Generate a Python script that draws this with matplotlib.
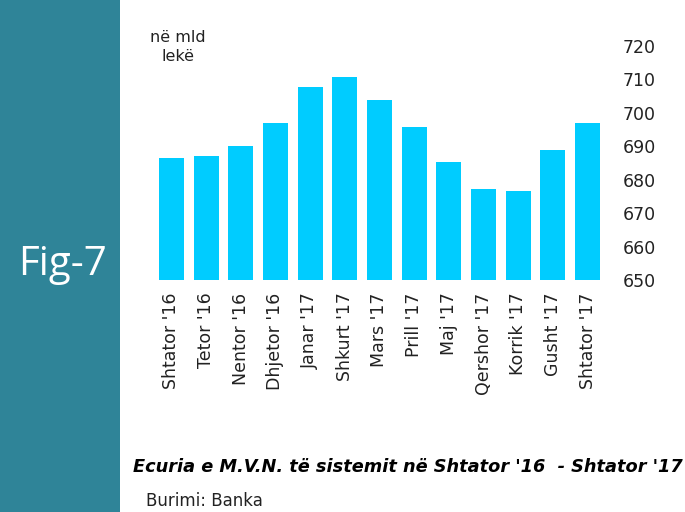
import matplotlib.pyplot as plt
from matplotlib.patches import Rectangle

# Data
months = ["Shtator '16", "Tetor '16", "Nentor '16", "Dhjetor '16", "Janar '17", "Shkurt '17",
          "Mars '17", "Prill '17", "Maj '17", "Qershor '17", "Korrik '17", "Gusht '17", "Shtator '17"]
values = [686.5, 687.1, 690.1, 697.0, 707.7, 710.7, 703.8, 695.8, 685.3, 677.2, 676.6, 688.9, 697.0]
yticks = [650, 660, 670, 680, 690, 700, 710, 720]

plt.rcParams['font.family'] = ['DejaVu Sans']

fig = plt.figure(figsize=(6.85, 5.12), dpi=100)

# left band with figure number
fig.patches.append(Rectangle((0, 0), 120 / 685, 1, transform=fig.transFigure,
                             facecolor='#2F8498', edgecolor='none', zorder=0))
fig.text(63 / 685, 1 - 265 / 512, 'Fig-7', color='white', fontsize=29,
         family='Open Sans', ha='center', va='center')

ax = fig.add_axes([154 / 685, 1 - 280 / 512, (605 - 154) / 685, (280 - 46) / 512])
ax.bar(range(len(values)), values, width=0.72, color='#00CCFF')
ax.set_ylim(650, 720)
ax.set_xlim(-0.5, len(values) - 0.5)
ax.set_yticks(yticks)
ax.yaxis.tick_right()
ax.tick_params(axis='y', length=0, pad=13, labelsize=12.5, labelcolor='#222222')
ax.set_xticks(range(len(months)))
ax.set_xticklabels(months, rotation=90, fontsize=12.5, color='#222222')
ax.tick_params(axis='x', length=0, pad=9)
for s in ax.spines.values():
    s.set_visible(False)

fig.text(178 / 685, 1 - 47 / 512, 'në mld\nlekë', fontsize=11.5, ha='center', va='center',
         linespacing=1.4, color='#222222')

fig.text(133 / 685, 1 - 467 / 512, "Ecuria e M.V.N. të sistemit në Shtator '16  - Shtator '17",
         fontsize=12.8, fontstyle='italic', fontweight='bold', ha='left', va='center')
fig.text(146 / 685, 1 - 501 / 512, 'Burimi: Banka', fontsize=12, ha='left', va='center',
         color='#222222')

fig.savefig('out.png', dpi=100)
